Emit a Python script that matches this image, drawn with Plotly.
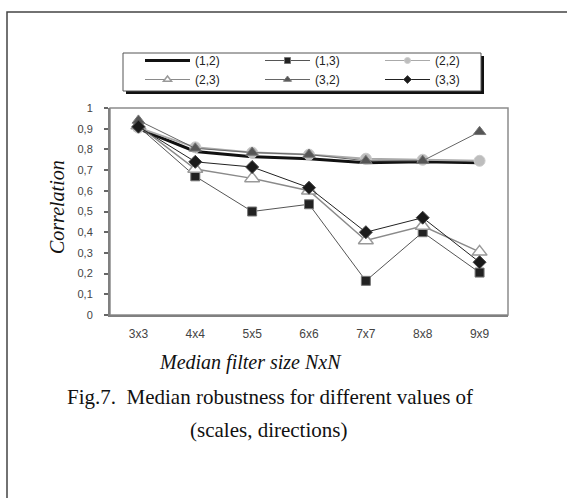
import plotly.graph_objects as go

# Median filter sizes and correlation per (scales, directions) setting
categories = ["3x3", "4x4", "5x5", "6x6", "7x7", "8x8", "9x9"]
corr_1_2 = [0.90, 0.79, 0.765, 0.755, 0.735, 0.74, 0.735]
corr_1_3 = [0.91, 0.67, 0.50, 0.535, 0.165, 0.40, 0.205]
corr_2_2 = [0.905, 0.81, 0.785, 0.775, 0.755, 0.75, 0.745]
corr_2_3 = [0.915, 0.705, 0.66, 0.60, 0.36, 0.43, 0.305]
corr_3_2 = [0.94, 0.805, 0.785, 0.775, 0.745, 0.745, 0.885]
corr_3_3 = [0.91, 0.74, 0.715, 0.615, 0.40, 0.47, 0.255]

series_names = ["(1,2)", "(1,3)", "(2,2)", "(2,3)", "(3,2)", "(3,3)"]
series_values = [corr_1_2, corr_1_3, corr_2_2, corr_2_3, corr_3_2, corr_3_3]

y_tickvals = [0, 0.1, 0.2, 0.3, 0.4, 0.5, 0.6, 0.7, 0.8, 0.9, 1.0]
y_ticktext = ["0", "0,1", "0,2", "0,3", "0,4", "0,5", "0,6", "0,7", "0,8", "0,9", "1"]

# line / marker style for each series
styles = [
    dict(line=dict(color="#111111", width=3), marker=None, mode="lines"),
    dict(line=dict(color="#555555", width=1),
         marker=dict(symbol="square", size=9, color="#222222",
                     line=dict(color="#777777", width=1)), mode="lines+markers"),
    dict(line=dict(color="#aaaaaa", width=2),
         marker=dict(symbol="circle", size=11, color="#bdbdbd",
                     line=dict(color="#cccccc", width=1)), mode="lines+markers"),
    dict(line=dict(color="#8a8a8a", width=1.5),
         marker=dict(symbol="triangle-up", size=13, color="#ffffff",
                     line=dict(color="#999999", width=1.5)), mode="lines+markers"),
    dict(line=dict(color="#666666", width=1),
         marker=dict(symbol="triangle-up", size=11, color="#555555",
                     line=dict(color="#777777", width=1)), mode="lines+markers"),
    dict(line=dict(color="#222222", width=1),
         marker=dict(symbol="diamond", size=10, color="#1a1a1a",
                     line=dict(color="#444444", width=1)), mode="lines+markers"),
]
legend_marker_sizes = [0, 6, 6, 7, 7, 6]

fig = go.Figure()

for name, vals, st in zip(series_names, series_values, styles):
    kw = dict(x=categories, y=vals, mode=st["mode"], line=st["line"],
              name=name, showlegend=False, hoverinfo="x+y+name")
    if st["marker"] is not None:
        kw["marker"] = st["marker"]
    fig.add_trace(go.Scatter(**kw))

# compact legend entries with smaller symbols
for name, st, ms in zip(series_names, styles, legend_marker_sizes):
    kw = dict(x=[None], y=[None], mode=st["mode"], name=name,
              line=dict(color="#111111" if name == "(1,2)" else st["line"]["color"],
                        width=3 if name == "(1,2)" else 1))
    if st["marker"] is not None:
        m = dict(st["marker"])
        m["size"] = ms
        kw["marker"] = m
    fig.add_trace(go.Scatter(**kw))

W, H = 567, 498
L, R, T, B = 110, 59, 108, 183
pw, ph = W - L - R, H - T - B


def px(x):
    return (x - L) / pw


def py(y):
    return (H - B - y) / ph


shapes = [
    # outer figure frame
    dict(type="rect", xref="paper", yref="paper", x0=px(7), x1=px(600),
         y0=py(530), y1=py(12), line=dict(color="#444444", width=1.5),
         layer="below"),
    # legend box shadow and box
    dict(type="rect", xref="paper", yref="paper", x0=px(126), x1=px(484),
         y0=py(94), y1=py(56), fillcolor="#111111", line=dict(width=0),
         layer="above"),
    dict(type="rect", xref="paper", yref="paper", x0=px(123), x1=px(481),
         y0=py(91), y1=py(53), fillcolor="#ffffff",
         line=dict(color="#555555", width=1), layer="above"),
]

annotations = [
    dict(text="Correlation", xref="paper", yref="paper", x=px(57), y=py(207),
         textangle=-90, showarrow=False, xanchor="center", yanchor="middle",
         font=dict(family="Liberation Serif", size=20, color="#111111",
                   style="italic")),
    dict(text="Median filter size NxN", xref="paper", yref="paper",
         x=px(250), y=py(362), showarrow=False, xanchor="center",
         yanchor="middle",
         font=dict(family="Liberation Serif", size=20, color="#111111",
                   style="italic")),
    dict(text="Fig.7.  Median robustness for different values of",
         xref="paper", yref="paper", x=px(270), y=py(397), showarrow=False,
         xanchor="center", yanchor="middle",
         font=dict(family="Liberation Serif", size=21, color="#111111")),
    dict(text="(scales, directions)", xref="paper", yref="paper",
         x=px(268), y=py(430), showarrow=False, xanchor="center",
         yanchor="middle",
         font=dict(family="Liberation Serif", size=21, color="#111111")),
]

fig.update_layout(
    width=W, height=H,
    margin=dict(l=L, r=R, t=T, b=B, pad=0),
    paper_bgcolor="#ffffff", plot_bgcolor="#ffffff",
    shapes=shapes, annotations=annotations,
    legend=dict(orientation="h", x=px(140), y=py(46), xanchor="left",
                yanchor="top", entrywidth=60, entrywidthmode="pixels",
                itemwidth=45, bgcolor="rgba(0,0,0,0)", borderwidth=0,
                font=dict(family="Liberation Sans", size=12, color="#222222"),
                tracegroupgap=0),
    xaxis=dict(type="category", range=[-0.5, 6.5], showgrid=False,
               zeroline=False, showline=True, linecolor="#808080",
               linewidth=2, mirror=False, ticks="", ticklabelstandoff=7,
               tickfont=dict(family="Liberation Sans", size=12,
                             color="#444444")),
    yaxis=dict(range=[0, 1], tickvals=y_tickvals, ticktext=y_ticktext,
               showgrid=False, zeroline=False, showline=True,
               linecolor="#808080", linewidth=2, ticks="outside",
               ticklen=4, tickcolor="#666666", tickwidth=1.5,
               ticklabelstandoff=9,
               tickfont=dict(family="Liberation Sans", size=11,
                             color="#444444")),
)

# plot area border on the top and right
fig.add_shape(type="rect", xref="paper", yref="paper", x0=0, x1=1, y0=0, y1=1,
              line=dict(color="#8c8c8c", width=1.5), layer="below")

fig.write_html("out.html")
